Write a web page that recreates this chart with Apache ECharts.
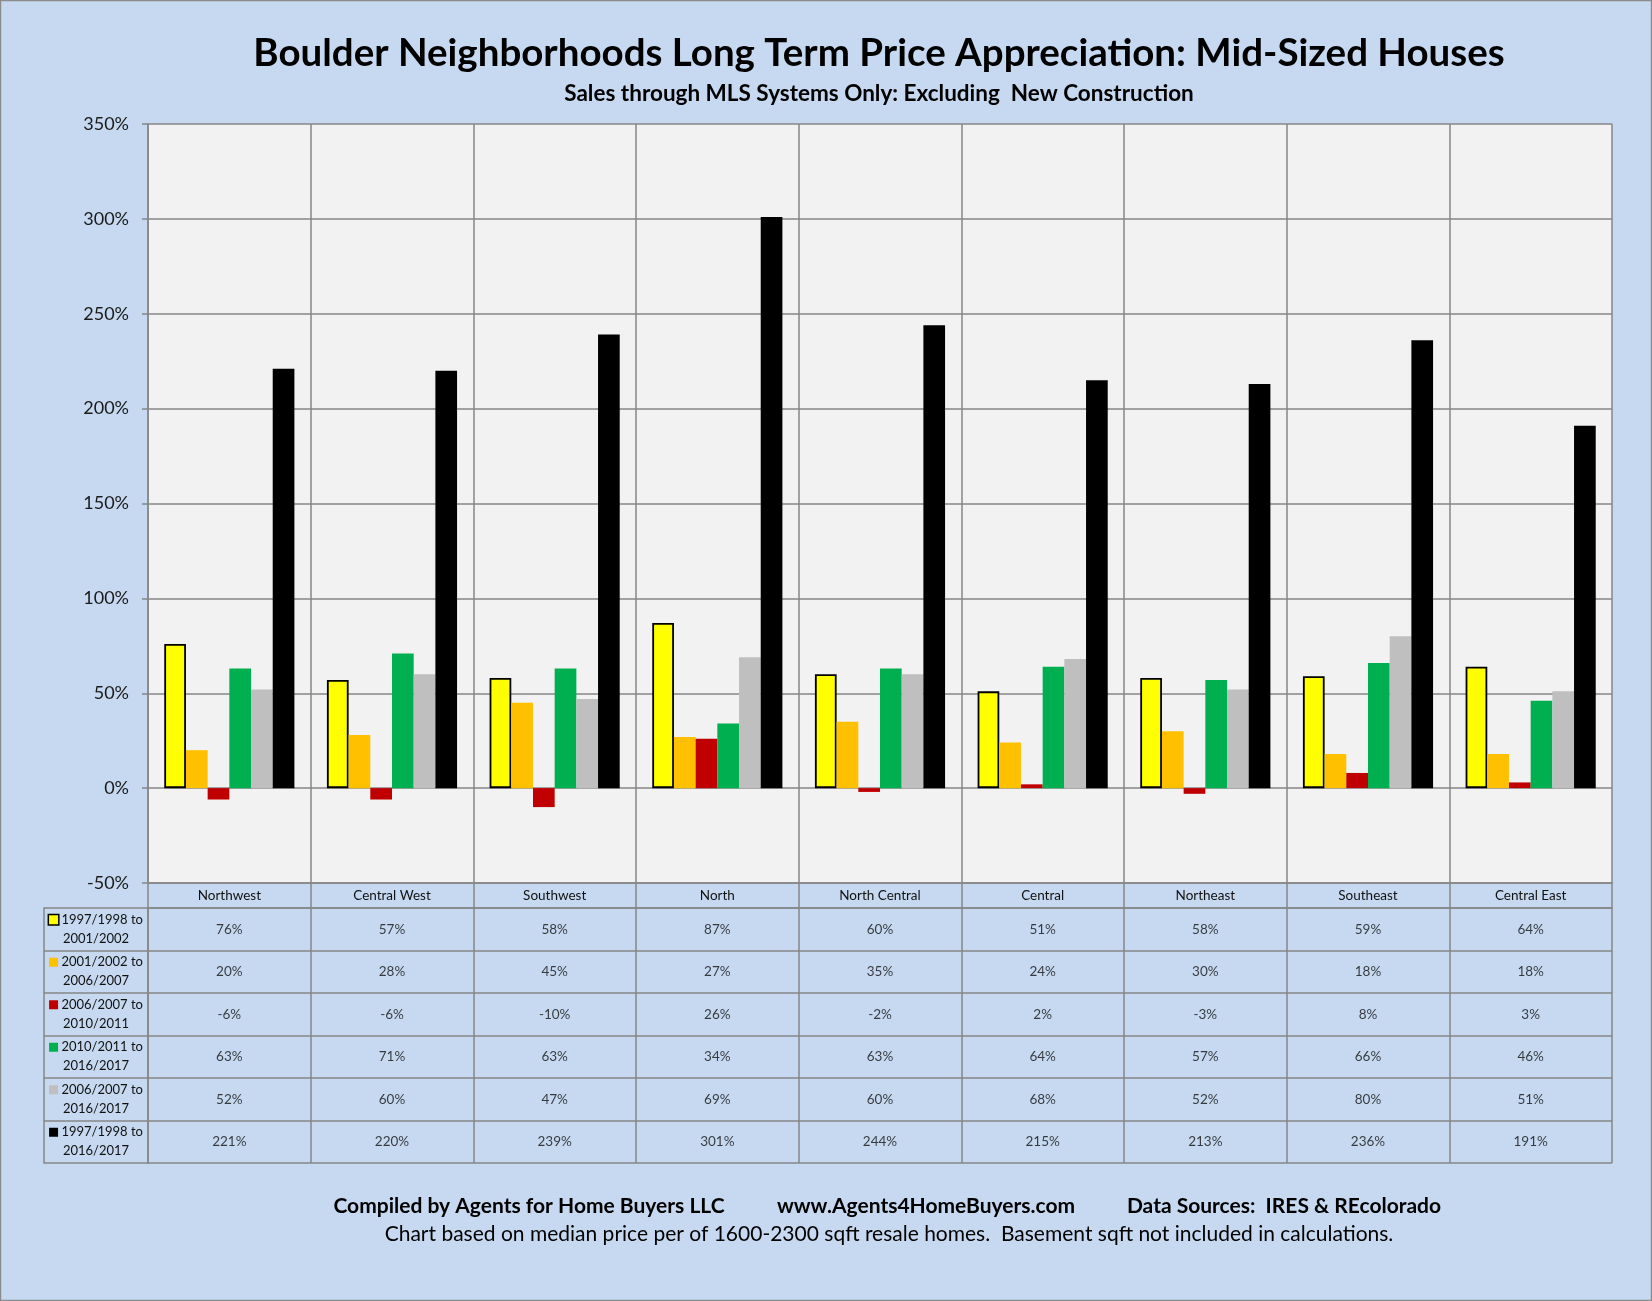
<!DOCTYPE html>
<html>
<head>
<meta charset="utf-8">
<script src="https://cdn.jsdelivr.net/npm/echarts@6/dist/echarts.min.js"></script>
<style>
  html, body { margin: 0; padding: 0; background: #c6d9f1; }
  #chart { width: 1652px; height: 1301px; }
</style>
</head>
<body>
<div id="chart"></div>
<script>
// neighborhoods (x categories)
const categories = ['Northwest', 'Central West', 'Southwest', 'North', 'North Central', 'Central', 'Northeast', 'Southeast', 'Central East'];

// periods (rows of the data table)
const periods = [
  '1997/1998 to\n2001/2002',
  '2001/2002 to\n2006/2007',
  '2006/2007 to\n2010/2011',
  '2010/2011 to\n2016/2017',
  '2006/2007 to\n2016/2017',
  '1997/1998 to\n2016/2017'
];

// appreciation in %, one array per period
const p9702 = [76, 57, 58, 87, 60, 51, 58, 59, 64];
const p0207 = [20, 28, 45, 27, 35, 24, 30, 18, 18];
const p0711 = [-6, -6, -10, 26, -2, 2, -3, 8, 3];
const p1117 = [63, 71, 63, 34, 63, 64, 57, 66, 46];
const p0717 = [52, 60, 47, 69, 60, 68, 52, 80, 51];
const p9817 = [221, 220, 239, 301, 244, 215, 213, 236, 191];
const seriesValues = [p9702, p0207, p0711, p1117, p0717, p9817];

// y axis
const yMin = -50;
const yMax = 350;
const yStep = 50;

const colors = ['#ffff00', '#ffc000', '#c00000', '#00b050', '#bfbfbf', '#000000'];
const gridGray = '#868686';
const font = 'Lato';

const chart = echarts.init(document.getElementById('chart'));

// legend keys for the table row labels
const rich = {};
colors.forEach((c, i) => {
  rich['k' + i] = {
    width: 9,
    height: 9,
    backgroundColor: c,
    borderColor: i === 0 ? '#000' : c,
    borderWidth: i === 0 ? 1.5 : 0
  };
});

const barSeries = seriesValues.map((vals, i) => ({
  name: periods[i].replace('\n', ' '),
  type: 'bar',
  xAxisIndex: 0,
  yAxisIndex: 0,
  data: vals,
  barGap: '0%',
  barCategoryGap: '20%',
  itemStyle: {
    color: colors[i],
    borderColor: i === 0 ? '#000' : null,
    borderWidth: i === 0 ? 1.8 : 0
  },
  silent: true
}));

// cells of the data table
const cellData = [];
seriesValues.forEach((vals, r) => {
  vals.forEach((v, c) => cellData.push([c, r, v]));
});

const option = {
  backgroundColor: '#c6d9f1',
  animation: false,
  textStyle: { fontFamily: font },
  title: [
    {
      text: 'Boulder Neighborhoods Long Term Price Appreciation: Mid-Sized Houses',
      left: 874, top: 29, textAlign: 'center',
      textStyle: { fontFamily: font, fontSize: 38.5, fontWeight: 'bold', color: '#000' }
    },
    {
      text: 'Sales through MLS Systems Only: Excluding  New Construction',
      left: 874, top: 77, textAlign: 'center',
      textStyle: { fontFamily: font, fontSize: 22.5, fontWeight: 'bold', color: '#000' }
    },
    {
      text: 'Compiled by Agents for Home Buyers LLC',
      left: 524, top: 1191, textAlign: 'center',
      textStyle: { fontFamily: font, fontSize: 21, fontWeight: 'bold', color: '#000' }
    },
    {
      text: 'www.Agents4HomeBuyers.com',
      left: 921, top: 1191, textAlign: 'center',
      textStyle: { fontFamily: font, fontSize: 21, fontWeight: 'bold', color: '#000' }
    },
    {
      text: 'Data Sources:  IRES & REcolorado',
      left: 1279, top: 1191, textAlign: 'center',
      textStyle: { fontFamily: font, fontSize: 21, fontWeight: 'bold', color: '#000' }
    },
    {
      text: 'Chart based on median price per of 1600-2300 sqft resale homes.  Basement sqft not included in calculations.',
      left: 884, top: 1219, textAlign: 'center',
      textStyle: { fontFamily: font, fontSize: 21, fontWeight: 'normal', color: '#000' }
    }
  ],
  graphic: [
    {
      type: 'rect',
      shape: { x: 0.5, y: 0.5, width: 1651, height: 1300 },
      style: { fill: null, stroke: '#8c8c8c', lineWidth: 1.5 },
      silent: true
    }
  ],
  grid: [
    { left: 148, right: 40, top: 124, height: 759, show: true, backgroundColor: '#f2f2f2', borderWidth: 0 },
    { left: 148, right: 40, top: 908, height: 255, show: false }
  ],
  xAxis: [
    {
      type: 'category',
      gridIndex: 0,
      data: categories,
      position: 'bottom',
      axisLine: { onZero: false, lineStyle: { color: gridGray, width: 1.5 } },
      axisTick: { show: true, inside: false, length: 25, interval: 0, lineStyle: { color: gridGray, width: 1.5 } },
      axisLabel: { interval: 0, margin: 6, fontSize: 13.5, color: '#111', fontFamily: font },
      splitLine: { show: true, interval: 0, lineStyle: { color: gridGray, width: 1.5 } }
    },
    {
      type: 'category',
      gridIndex: 1,
      data: categories,
      position: 'top',
      axisLine: { show: true, lineStyle: { color: gridGray, width: 1.5 } },
      axisTick: { show: false },
      axisLabel: { show: false },
      splitLine: { show: true, interval: 0, lineStyle: { color: gridGray, width: 1.5 } }
    }
  ],
  yAxis: [
    {
      type: 'value',
      gridIndex: 0,
      min: yMin,
      max: yMax,
      interval: yStep,
      axisLine: { show: true, lineStyle: { color: gridGray, width: 1.5 } },
      axisTick: { show: true, inside: false, length: 6, lineStyle: { color: gridGray, width: 1.5 } },
      axisLabel: { formatter: '{value}%', margin: 19, fontSize: 18, color: '#1a1a1a', fontFamily: font },
      splitLine: { show: true, lineStyle: { color: gridGray, width: 1.5 } }
    },
    {
      type: 'category',
      gridIndex: 1,
      data: periods,
      inverse: true,
      axisLine: { show: true, lineStyle: { color: gridGray, width: 1.5 } },
      axisTick: { show: true, inside: false, length: 104, interval: 0, lineStyle: { color: gridGray, width: 1.5 } },
      axisLabel: {
        interval: 0,
        align: 'center',
        margin: 52,
        fontSize: 13,
        lineHeight: 19,
        color: '#111',
        fontFamily: font,
        formatter: (value) => {
          const i = periods.indexOf(value);
          return '{k' + i + '|} ' + value;
        },
        rich: rich
      },
      splitLine: { show: true, interval: 0, lineStyle: { color: gridGray, width: 1.5 } }
    },
    {
      // left border of the legend column
      type: 'category',
      gridIndex: 1,
      data: periods,
      inverse: true,
      position: 'left',
      offset: 104,
      axisLine: { show: true, lineStyle: { color: gridGray, width: 1.5 } },
      axisTick: { show: false },
      axisLabel: { show: false },
      splitLine: { show: false }
    }
  ],
  series: barSeries.concat([
    {
      name: 'table',
      type: 'scatter',
      xAxisIndex: 1,
      yAxisIndex: 1,
      data: cellData,
      symbolSize: 1,
      itemStyle: { color: 'rgba(0,0,0,0)' },
      silent: true,
      label: {
        show: true,
        position: 'inside',
        formatter: (p) => p.value[2] + '%',
        fontSize: 13.5,
        color: '#111',
        fontFamily: font
      }
    }
  ])
};

chart.setOption(option);
</script>
</body>
</html>
